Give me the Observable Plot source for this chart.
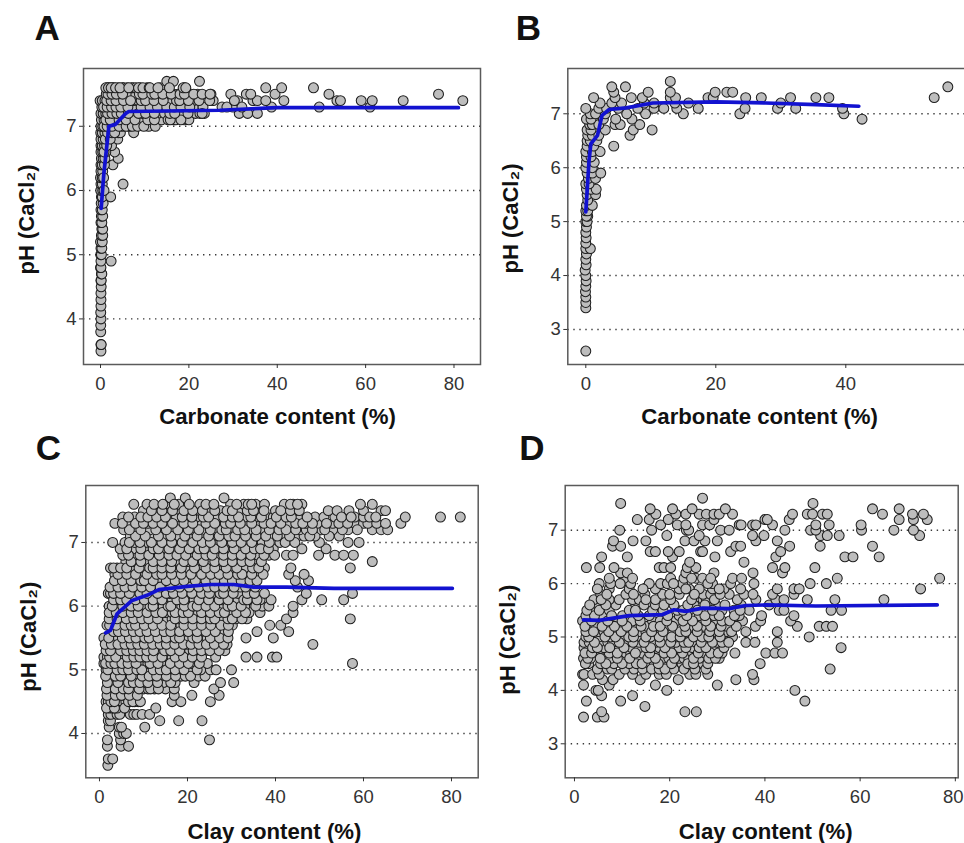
<!DOCTYPE html>
<html><head><meta charset="utf-8">
<script src="https://cdn.jsdelivr.net/npm/d3@7"></script>
<script src="https://cdn.jsdelivr.net/npm/@observablehq/plot@0.6"></script>
<style>
html,body{margin:0;padding:0;background:#fff}
#page{position:relative;width:964px;height:843px;overflow:hidden;font-family:"Liberation Sans",Arial,sans-serif}
#page svg{position:absolute;overflow:visible;background:transparent}
</style></head><body><div id="page"></div>
<script>
const yLabel = "pH (CaCl₂)";
const xLabelTop = "Carbonate content (%)";
const xLabelBottom = "Clay content (%)";

// Panel A – pH levels and the carbonate values read at each level
const aPH = [3.5,3.6,3.8,3.9,4.0,4.1,4.2,4.3,4.4,4.5,4.6,4.7,4.8,4.9,5.0,5.1,5.2,5.3,5.4,5.5,5.6,5.7,5.8,5.9,6.0,6.1,6.2,6.3,6.4,6.5,6.6,6.7,6.8,6.9,7.0,7.1,7.2,7.3,7.4,7.5,7.6,7.7];
const aX = [[.1],[.1,.15],[.05],[.05],[.1],[.05],[.1],[.1],[.1],[.15],[.1,.15],[.2,.3],[0,.1],[.1,2.4],[.05,.2],[.1,.3],[0,.4],[.2,.5],[.3,.5],[.1,.3],[.2,.5],[.1,.4],[.15,.6],[.2,.4,2.3],[.05,.5],[.1,.4,5.1],[0,.4],[.1,.5],[.1,.4,2.8],[.2,.6,4],[.1,.5,3.2],[.1,.4,.9,2.5],[.1,.6,1.5,3.9],[.05,.4,1,4,4.5,7.5],[.1,.5,1.1,2,3,5,6.5,10.9,12.4],[.2,.8,1.5,2.6,3.4,5,6.6,9.4,13.8,16.5,17,19,20],[.1,.6,1.2,2,3,4,5.5,7,8,9.5,11,13,14.5,18,21.5,22.5,23.5,31.4,33.3,35.5],[.3,1,1.8,3,4,5,7,8,10,12,14,15.5,16.2,17,19,21,23.2,27.5,30,38.7,49.5,61],[-.1,.4,1,2,3,4,4.5,6,7.5,8.5,11,13,15,16,18.8,21,25.5,31,34.5,35.5,37.4,41.5,53.5,54.3,59,61.5,68.5,82],[1.3,2,3,4,6,7,8,10.5,13,15,16.5,17.5,20.5,22,25,29.5,33,34,39.5,51.7,76.5],[1.5,2,2.7,3,4,5,5.2,6,7,7.4,8,9,10.5,13.5,19,37.4,41,48.2],[15,16.5,22.4]];
const aPHMore = [6.0,6.2,6.4,6.5,6.6,6.7,6.8,6.9,7.0,7.1,7.2,7.3,7.4,7.5,7.6];
const aXMore = [[.8],[.7],[.9],[1],[1.2,.8],[1.4],[1.1,2.2],[1.6,2.6,3.2],[.8,1.5,2.6,4.2,5.8,7.2,8.4,9.8],[1.2,2.2,4.2,5.8,7.8,10.7,12.2,15.3,18.2,15.8],[1.6,2.6,3.7,4.7,6.3,8.6,10.2,12.2,15.7,16.8,19.8,23],[.7,1.5,2.5,3.5,4.6,6.2,9.2,11.2,12.9,15,16.7,18.2,20.2,28.6,32],[1.4,2.4,3.5,5.2,6.8,9.2,10.2,12.1,14.2,17.2,17.9,19.9,22.3,24.7,30.3],[1.7,2.6,3.6,5,8.8,9.6,11.6,12.3,14.1,16,18,19,21.1,23,24.8],[1.2,1.8,2.4,3.4,4.4,6.4,8.6,9.6,11,11.2,13,15.6,18.7,19.3]];

// Panel B
const bPH = [2.6,3.4,3.5,3.6,3.7,3.8,3.9,4.0,4.1,4.2,4.3,4.4,4.5,4.6,4.7,4.8,4.9,5.0,5.1,5.2,5.3,5.4,5.5,5.6,5.7,5.8,5.9,6.0,6.1,6.2,6.3,6.4,6.5,6.6,6.7,6.8,6.9,7.0,7.1,7.2,7.3,7.4,7.5,7.6];
const bX = [[0],[0],[0],[0],[-.05],[0],[.05],[0],[-.1],[.05],[0],[.1],[0,.7],[0],[.05],[0],[.1],[0,.2],[.3,.1],[0,.3],[.1,1],[.3],[.2,1.5],[.1,.8,1.6],[0,.5],[.4,1.5],[.2,1,2.3],[0,1],[.1,1.3],[.1,.8],[0,1,2.2],[.2,1.2,4.3],[.2,.7,1.7],[.3,1,2,6.8],[.2,.8,3,7.3,10.2],[.6,1,2,4.5,5.3,8.3],[.1,.8,2.7,4.6,7.1,42.5],[.7,1.5,3,6.3,9.2,15,23.7,39.7],[0,2,3.2,5,8,10.5,12,14,17.3,24.5,29.5,32.3,39.5],[2.2,4,5.5,9,10.5,13.7,15.8,30],[1.2,4.5,7,8.7,13,13.8,18.8,19.6,24.6,27,31.5,35.4,37.4,53.6],[4.3,9.6,13,19.9,21.7,22.6],[4,6.1,55.7],[13]];

// Panel C
const cPH = [3.5,3.6,3.8,3.9,4.0,4.1,4.2,4.3,4.4,4.5,4.6,4.7,4.8,4.9,5.0,5.1,5.2,5.3,5.4,5.5,5.6,5.7,5.8,5.9,6.0,6.1,6.2,6.3,6.4,6.5,6.6,6.7,6.8,6.9,7.0,7.1,7.2,7.3,7.4,7.5,7.6,7.7];
const cX = [[1.9],[2,3],[1.8,4.9,6.6],[1.8,4.8,25],[4.5,5.5,6.1],[2.2,4.5,5,10.3],[2,2.5,13.7,18,23.3],[2,2.6,4,4.6,7,7.8,8.5,9.7,11.4],[2.3,3,4,12.8],[1.5,2,3,3.8,4.5,5.2,6,7,8,8.8,16.5,18.5,25.2],[2.8,4.5,5.5,6.2,7.2,8,17,21,27.2],[2.2,3,4,5,6,7,8,10,11,12.5,15,17,26],[2.5,3.5,5,6,7,8.5,10,12,14.5,17.2,21.5,27.5,30.5],[2,3,4,5.5,6.5,8,9,10.5,12,14,16,18.5,19.5,22.5,24],[1.5,2.5,3.5,4.5,6,7,8,9,10.5,11.5,13,14.5,16,18,20,21,23,25.2,26.5,30],[1,2,3,4,6,7,9,10,11,12.5,14,15,17,19,21,24.5,57.5],[1,1.8,3,4.5,5.5,7,8.5,10,11.5,13,15.5,16.5,18,20,22,33.3,35.8,39.3,40.3],[2,3,4,5.5,7,8.5,10,11.5,13,14,15.5,17,19.5,20.5,22.5,24,26,28.5],[2,3.5,5,6.5,8,9.5,11,13,14.5,16,18,20,21.5,23.5,25,27,29,48.5],[1,3,4.3,6,7.5,9,12,12.5,14,16,19,20,23,24.5,26,28,33.3,39.5],[5,6.8,8.5,10,11.5,13.8,15.5,17,19,21,23,25.5,27,28.5,35.8,43],[1.7,5,6.5,9,9.5,11,13,15,17,18.5,20,22.5,24.5,26.5,30.2,38.7,41.2],[3,5,7,8.5,10.5,12,14,15.5,16.5,18,20,22,24,27,28,31,33.5,42.5,57],[3,4.5,6,8,9.5,12,13.5,15,16.5,18,19.5,21,22.5,24,26,29.5,34,36.5,44],[2.2,3.5,4.5,6.5,8,9.5,10.5,13,14.5,17,18.7,20,23,25,27,28,31,33,37,38.5,44],[4,5.5,7,9,11,13,15,16.5,18.5,20,21.5,23.5,26,28,30,31.5,34.5,36.5,39,46,50.5,55.5],[2,2.5,4,5.5,8,10,12,14,16,17.5,19.5,22,24,26,29,31.5,37.5,47,57.5],[3,5,6.5,8.5,10.5,12.5,15,17,19,21.5,23.5,25.5,27,29.5,32,34,45],[4.5,6,8,11,13,14,16,18,20.5,23,25,27,29,31,33,44.5,47.5],[3.5,5,7,9.5,12,15.5,17.5,19.5,22,24.5,26,28,30,33.5,36,43,46.5],[2.5,4,5.5,7,8,10,13,15,17,20,23,25,27.5,30,33,37.5,43.5,57],[6,8,11,13,15,18,20,22,25,27,29,31,35.5,62],[5.3,8,10,12.5,15,16.5,18.5,21,23,27,29,31.5,33,36,38.5,42.5,44,49.8,53.5,55.5,57.7],[4.7,8.2,10,14.5,17,19,21,25,27.5,29,32,34,37.5,39.5,46,51.5],[3,5.8,8,10.5,13,15,17.5,20,22.5,24,26.5,29,31,33.5,37,41,50,56.5,59],[7,9,12,15,18,21,23.5,26,28,32,34.5,41.8,42.5,44,45,46.5,49,54.5],[5.5,8,11.5,14,16,19,21,24,26.5,30,34,37.5,50.5,53,56.5,62,64,65.5,45.5,47],[3.5,7,9,11,13,15,18,20,23,25,27.5,31,33,36,43,47,49.5,53,55,58,60,61,63,65,68.5],[5.3,8,12,14,16,17.5,20,22,25.5,27,29,33,35.5,38,39.5,41,45,49,51,53.5,56,58,60,69.5,77.5,82],[10,13,15.4,18.5,22.8,24.8,27.5,31.5,36,40,42.5,44.5,52,54,56.7,60,64,65],[7.8,10.8,15,18,22.8,29.8,32.8,35.5,37.5,42,44,46,59.3,62],[16.1,19.5,28.3]];
const cPHMore = [4.4,4.5,4.6,4.7,4.8,4.9,5.0,5.1,5.2,5.3,5.4,5.5,5.6,5.7,5.8,5.9,6.0,6.1,6.2,6.3,6.4,6.5,6.6,6.7,6.8,6.9,7.0,7.1,7.2,7.3,7.4,7.5,7.6];
const cXMore = [
[1.6,3.4,5.7],[2.6,3.4,6.6,7.6,9.3],[1.7,3.6,5,6.8,8.6],[1.6,3.6,5.4,6.6,9,11.6,13.4],[1.8,4.2,6.6,7.7,9.2,11,13.2,16.2],[1.4,3.6,4.8,7.2,9.7,11.3,13,15.2,17.3,20.7],[1.9,4,5.3,6.6,8.5,9.6,12.2,13.8,15.2,17.2,19.2,22.2],[1.4,2.6,3.5,5.1,6.5,8.3,11.5,13.3,16.1,18.2,20.2,22.7],[2.3,3.7,6.3,7.8,9.2,10.7,12.2,14.2,17.2,19.1,21.1,23.2,26.4],[1.5,2.5,4.8,6.2,7.7,9.2,10.8,12.3,14.8,16.2,18.2,21.3,23.2,25.1,27.2],[1.3,2.7,4.2,5.8,7.2,8.7,10.2,12.1,13.8,15.2,17.1,19.1,20.8,22.6,24.3,26.1,28.2],[2.1,5.2,6.8,8.3,10.3,11.3,13.3,15.2,17.2,18.2,21.2,22.2,25.2,27.3,29.2],[3.2,4.3,5.9,7.7,9.2,10.8,12.7,14.7,16.2,18.2,20.2,22.2,24.2,26.3,29.3],[2.3,3.8,5.8,7.2,8.2,10.2,12.2,14.2,16.2,19.2,21.2,23.2,25.3,27.6,29.3],[2.2,4,6.1,7.8,9.6,11.2,13.2,17.2,19.2,21.2,23.2,25.2,26.2,29.2,30.2,32.4],[2.2,3.8,5.3,7.2,8.8,10.8,12.8,14.3,17.2,19,20.2,23.2,25.2,27.2,28.4,31.2,33.2],[2.9,5.3,7.2,8.8,11.5,12.2,15.6,16.2,19.3,21.2,22.2,24.2,26.2,29.2,30.2,32.2,35.5],[3.2,4.8,6.2,8.2,10.2,12.2,14.2,17.6,19.2,22.6,24.8,27.2,29.2,32.8,33.6,35.8],[3.2,4.8,6.8,9.2,10.8,13.2,15.2,16.8,18.8,21,23.2,25,27.4,28.2,30.4,33.6,35.2],[2.4,4.2,5.8,7.6,9.6,11.6,13.8,16.2,18.2,20.4,22.6,24.6,26.2,28.2,30.6,33.2,35.4],[3.4,5.2,7.2,9.4,10.2,12.2,15.2,17.2,19.2,21.8,24.2,26.2,28.4,30.2,32.2,34.2,35.8],[4.2,6.2,8.2,10.8,13,14.2,16.4,18.6,20.8,23.2,25.3,27.2,29.2,31.4,32.4,34.6,37.2],[3.2,4.8,6.2,9,11.4,12.2,14.2,16.2,18.6,21.6,24.2,26.2,28.8,31.2,34.8,36.2],[7.2,9.4,12.2,14.2,16.4,19.2,21.2,23.6,26.2,28.2,30.2,32.4,34.2,36.8],[6.6,9.2,11.2,13.6,15.8,17.6,19.6,22.2,24.2,25.6,28.2,30.2,32.2,34.4,37.4,39.8],[6.2,9.4,12.2,13.4,15.8,18.2,20.4,22.6,23.8,26.2,28.2,30.6,33.2,35.2,36.6,38.4],[6.8,9.2,11.8,14.2,16.4,18.8,21.2,23.4,25.2,27.8,30.2,32.2,34.6,38.6,42.2,44.4],[8.2,10.4,13.4,16.2,19.4,22.2,24.8,27.2,29.4,30.8,33.2,35.6,37.8,40.4,43.2,47.8,52.2],[6.8,9.4,12.8,15.2,17.8,20.2,22.6,25.2,27.8,28.8,31.4,33,35.6,38.6,40.8,42.4,44.6,48.4,51.2,55.2,58.6],[5.2,8.2,10,12.2,14.2,16.6,19.2,21.2,24.2,26.2,28.6,29.8,32,34.6,37.4,39,41.2,44.6,46.2,48.4,51.6,54.4,56.4],[6.6,9.4,11,13,15,18.8,21,23.6,24.8,28.2,30.2,31.6,34.4,36.8,40.2,42.4,43.6,47.2,55,57.2,61.4,62.8],[11.8,14.2,16.6,19.2,21.2,23.4,26.2,29,30.2,33.6,35,37.4,41.2,43.4,45.4],[12.4,14.4,17,20.4,24.2,26,31.2,33.8,34.6,43.4,45]];

// Panel D
const dPH = [3.5,3.6,3.7,3.8,3.9,4.0,4.1,4.2,4.3,4.4,4.5,4.6,4.7,4.8,4.9,5.0,5.1,5.2,5.3,5.4,5.5,5.6,5.7,5.8,5.9,6.0,6.1,6.2,6.3,6.4,6.5,6.6,6.7,6.8,6.9,7.0,7.1,7.2,7.3,7.4,7.5,7.6];
const dX = [[1.9,4.8,6.2],[5.7,23.2,25.6],[14.8],[2.5,9.7,48.4],[5.7,12.2],[4.5,5,19.4,46.3],[1.9,7.3,17,30],[5.9,8.1,13.8,21.8,33.9,37.7],[1.7,2,3.8,5.2,9.4,12.2,15,17.8,19.3,24.2,25.5,28,37.4],[4.8,6.9,7.8,10.6,12.5,14.3,20.9,53.7],[3,5.5,8.3,11.5,15.7,16.8,18.8,22.6,26.2,27,39],[1.9,3.4,7.6,10.4,12.9,13.6,18.5,19.8,22,23,24,26.2,30.4],[5,7.3,10.8,11.8,14.3,16.9,22.7,24.8,27.4,31,33.7,40.2,42.1,43.7],[2,3.1,6.2,9.2,12,13.6,17.8,20.6,22,24.8,29,56],[2,3.1,5.2,7,8,10.9,13.6,15.5,17,19,21.3,25.5,27.7,30,36,37.9,42.6],[2.4,4,5.2,7.6,10,13.9,16,19.2,21.3,23.4,29,32.8,33.2,49.3],[3.1,5,6.2,8.1,11.5,13.6,15,17,20.6,24.4,27,29.7,31.8,36,42.6],[3.1,4.5,7.3,9.5,12.9,15.3,19.3,22,24.4,27.2,32.1,38,46.8,51.4,52.9,54.2],[1.7,2.8,5.9,8.5,12.2,16.4,18,21.3,26.2,29.7,34.2,35.3,39.1,45.4],[3.1,6,10.1,15.7,22,26.2,29.3,34.6,39.3,46.1],[3.8,7.3,11.5,16.4,21.6,24.1,31,33.5,36.7,43,44,53.9,56.1],[5,8.7,12.9,17,20.9,25.1,29.7,35,40.9],[4.1,7.3,9.4,12.2,13.6,17,27,27.7,34.2,38.1,42.3,44,48.9,54.7,65],[5.5,10.8,14.8,18.5,22,27,28.6,32.5,35.6,37.5,41.6,46.1],[7.3,11.5,17,22,24.1,26.2,29,31.4,34.9,42.6,46.1,47.2,72.7],[5.2,7.6,11.8,15.7,18.1,19.5,22.7,29,32.8,37.7,49.5,52.9],[7.3,10.4,20.2,23,25.5,26.9,33.2,35.1,55.2,76.7],[9.7,11.1,23.4,29.3,37.5,43.7],[2.5,5.3,8.3,17.8,18.8,20.2,23.7,25.5,41.6,44.2,50.5],[24.2,35.6],[5.7,11.1,20.6,29.5,42.3,56.8,58.5,64],[15.9,17,19.7,22,26.5,26.9,32.8,43.3],[8,9.7,33.9,34.9,45.2,51.6,62.6],[8.2,12.3,15,23.2,25.1,27.4,30,38.1,42.6],[19.4,26.2,37.4,39.8,51.7,53.1,55.6,72.5],[9.5,16.2,23.5,24,30.7,32.5,44.2,49.6,50.7,60.3,67.1,71.2],[18.1,21.6,23.4,26.9,28.4,34.6,35,37.4,38.1,41.6,50.7,53.5,60.2],[13.2,15.7,19.7,29.3,40,40.5,45.1,68.2,71.2,74.1],[17.1,21.3,23.4,26.2,27.7,29.3,30.4,33.2,45.8,48.9,50,52.1,53.1,64.7,71,73.3],[15.9,20.6,24.7,31.7,62.6,68.2],[9.7,50.1],[26.9]];
const dPHMore = [4.4,4.5,4.6,4.7,4.8,4.9,5.0,5.1,5.2,5.3,5.4,5.5,5.6,5.7,5.8,5.9,6.0,6.1];
const dXMore = [[16.2,17.8,19,23,25.3,27.6],[2.3,6.6,10,13,14.2,17.6,20.4,23.8,25,28],[2.8,5.4,9,11.6,15.4,17,21,25,28.2,29.6],[2.2,3.6,9,12.8,15.8,18.8,20.4,26,28.6,30.2],[3.8,4.8,7.4,10.4,15,16,19,23.4,26.2,27.6,31.4],[4.2,9.4,12.3,14.6,18,20.2,23,24,26.6,29,31,32.4],[3,6.4,8.6,11.4,12.4,15,17.8,20.4,22.2,25,26.8,28.2,30.6],[2.4,4,7.2,9.8,12.4,16.2,18.6,22.2,23.4,25.8,28.4,30.4,33],[2.2,5.8,8.4,11,14,16.6,18,20.6,23.2,25.8,28.6,30.8,34],[3.6,7,10,13.8,19.4,22.8,24.8,27.6,31,32.6],[2.4,4.2,7.8,13.4,19.6,23.6,27.4,30.4,33.6],[2.6,5.2,12.8,18.6,22.8,25.8,29,34.8],[3.2,6.6,14.6,18.8,23.8,27.4,31.6],[5.6,15,20.2,24.6,29.4],[6.8,12.4,20,25.2,30.6],[4.8,14.4,23.4,30.4],[9.6,20.8,28],[12.2,24.6,28.6]];

// Fitted curves
const aLineX = [0.15,0.75,1.9,3.4,5.7,6.4,27,40,81];
const aLineY = [5.72,6.26,7.0,7.03,7.2,7.23,7.25,7.29,7.29];
const bLineX = [0,0.5,0.77,1.8,2.5,3.6,6.2,10.3,20,27.7,35.4,42];
const bLineY = [5.18,6.13,6.44,6.6,6.97,7.08,7.11,7.2,7.22,7.2,7.17,7.14];
const cLineX = [1.4,2.5,4,7.4,10.8,13.5,20,25.2,30.5,35,42.6,53.3,80.2];
const cLineY = [5.58,5.62,5.88,6.09,6.17,6.26,6.31,6.34,6.34,6.3,6.3,6.28,6.28];
const dLineX = [1.9,5.2,11.5,18.5,20.9,23.4,26.9,32.5,36,40.2,50.7,76.2];
const dLineY = [5.32,5.31,5.4,5.42,5.51,5.48,5.54,5.53,5.59,5.6,5.58,5.6];

const aXTicks=[0,20,40,60,80], bXTicks=[0,20,40], cXTicks=[0,20,40,60,80], dXTicks=[0,20,40,60,80];
const aYTicks=[4,5,6,7], bYTicks=[3,4,5,6,7], cYTicks=[4,5,6,7], dYTicks=[3,4,5,6,7];

const font = '"Liberation Sans",Arial,sans-serif';
const rows = (levels, xs) => levels.flatMap((ph,i)=>xs[i].map(x=>({x,ph})));
const line = (xs,ys) => xs.map((x,i)=>({x,y:ys[i]}));

function panel(o){
  const head = o.xt.slice(0,-1), last = o.xt.slice(-1);
  const tickText = (data,dx)=>Plot.text(data,{x:d=>d,frameAnchor:"bottom",lineAnchor:"middle",dx,dy:19.5,fontSize:18.5,fill:"#333",text:d=>String(d)});
  const svg = Plot.plot({
    width:482, height:o.h,
    marginLeft:o.ml, marginRight:o.mr, marginTop:o.mt, marginBottom:o.mb,
    style:{fontFamily:font, background:"transparent", overflow:"visible"},
    x:{domain:o.xd, label:null}, y:{domain:o.yd, label:null},
    marks:[
      Plot.ruleY(o.yt,{stroke:"#3a3a3a",strokeWidth:1.4,strokeDasharray:"1.4,4.6"}),
      Plot.dot(rows(o.ph,o.xs).concat(rows(o.ph2,o.xs2)),{x:"x",y:"ph",r:4.95,fill:"#bdbdbd",stroke:"#1e1e1e",strokeWidth:1.05}),
      Plot.line(line(o.lx,o.ly),{x:"x",y:"y",stroke:"#1212d0",strokeWidth:3.7,curve:"linear"}),
      Plot.frame({stroke:"#5a5a5a",strokeWidth:1.5}),
      Plot.axisX({ticks:o.xt,tickSize:4,text:null,label:null,color:"#333"}),
      tickText(head,0), tickText(last,o.lastDx),
      Plot.axisY({ticks:o.yt,tickSize:4,text:null,label:null,color:"#333"}),
      Plot.text(o.yt,{y:d=>d,frameAnchor:"left",textAnchor:"end",lineAnchor:"middle",dx:-7,fontSize:18.5,fill:"#333",text:d=>String(d)}),
      Plot.text([o.xl],{frameAnchor:"bottom",lineAnchor:"middle",dx:o.xlx,dy:o.xly,fontSize:22.2,fontWeight:"bold",fill:"#111"}),
      Plot.text([yLabel],{frameAnchor:"left",textAnchor:"middle",lineAnchor:"middle",rotate:-90,dx:-57,dy:o.yly,fontSize:22,fontWeight:"bold",fill:"#111"}),
      Plot.text([o.tag],{frameAnchor:"top-left",textAnchor:"start",lineAnchor:"middle",dx:o.tx,dy:o.ty,fontSize:35,fontWeight:"bold",fill:"#111"})
    ]
  });
  svg.style.left=o.left+"px"; svg.style.top=o.top+"px";
  document.getElementById("page").appendChild(svg);
}

const noPH = [], noX = [];
panel({tag:"A",left:0,top:0,h:430,ml:83,mr:2,mt:68,mb:66,xd:[-3.85,86],yd:[3.29,7.9],ph:aPH,xs:aX,ph2:aPHMore,xs2:aXMore,lx:aLineX,ly:aLineY,xt:aXTicks,yt:aYTicks,xl:xLabelTop,xlx:-4.5,xly:52,yly:3,tx:-49,ty:-40,lastDx:0});
panel({tag:"B",left:482,top:0,h:430,ml:85.3,mr:-2,mt:68,mb:66,xd:[-2.77,58.57],yd:[2.35,7.84],ph:bPH,xs:bX,ph2:noPH,xs2:noX,lx:bLineX,ly:bLineY,xt:bXTicks,yt:bYTicks,xl:xLabelTop,xlx:-7.5,xly:52,yly:2,tx:-52,ty:-40,lastDx:0});
panel({tag:"C",left:0,top:430,h:413,ml:85.3,mr:4.3,mt:55,mb:65.7,xd:[-3.11,86.07],yd:[3.304,7.895],ph:cPH,xs:cX,ph2:cPHMore,xs2:cXMore,lx:cLineX,ly:cLineY,xt:cXTicks,yt:cYTicks,xl:xLabelBottom,xlx:-7.5,xly:54,yly:5,tx:-50,ty:-37,lastDx:0});
panel({tag:"D",left:482,top:430,h:413,ml:82.7,mr:6.3,mt:55,mb:65.7,xd:[-1.95,80.6],yd:[2.363,7.837],ph:dPH,xs:dX,ph2:dPHMore,xs2:dXMore,lx:dLineX,ly:dLineY,xt:dXTicks,yt:dYTicks,xl:xLabelBottom,xlx:4,xly:54,yly:8,tx:-46,ty:-37,lastDx:-2});
</script></body></html>
